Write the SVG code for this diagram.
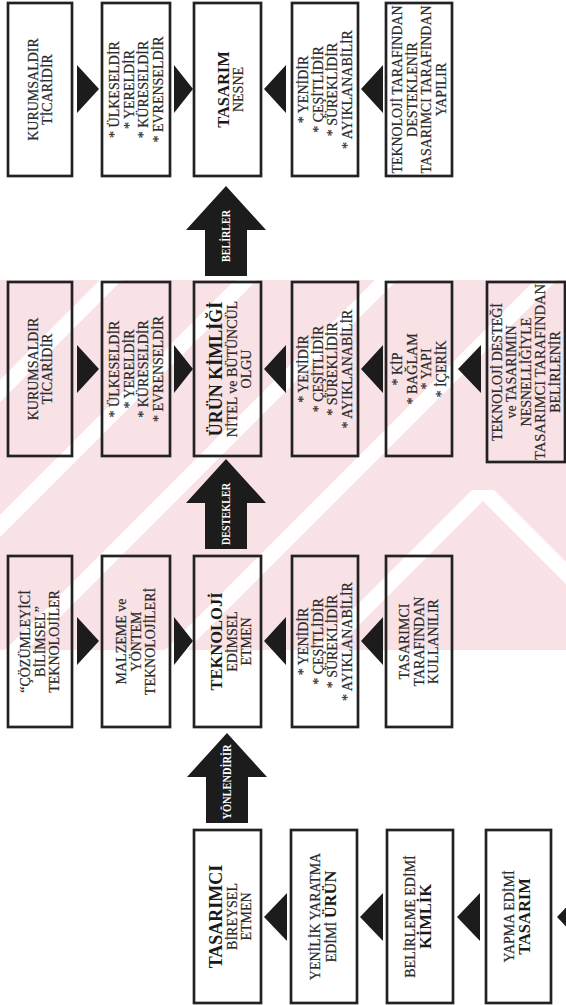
<svg xmlns="http://www.w3.org/2000/svg" width="566" height="1005" viewBox="0 0 566 1005">
  <style>
    .box { fill: none; stroke: #222; stroke-width: 2.7; }
    .tri { fill: #1c1c1c; }
    .arrow { fill: #1c1c1c; }
    .t { font-family: "Liberation Serif", "Times New Roman", serif; font-size: 14px; fill: #2a2a2a; stroke: #2a2a2a; stroke-width: 0.2; text-anchor: middle; }
    .b { font-family: "Liberation Serif", "Times New Roman", serif; font-size: 16.5px; font-weight: bold; fill: #1a1a1a; text-anchor: middle; }
    .bl { font-size: 18px; }
    .al { font-family: "Liberation Serif", "Times New Roman", serif; font-size: 12px; font-weight: bold; fill: #ffffff; text-anchor: middle; }
  </style>
  <defs>
    <clipPath id="wmclip"><rect x="0" y="280" width="566" height="370"/></clipPath>
  </defs>

  <rect x="0" y="0" width="566" height="1005" fill="#ffffff"/>

  <!-- background watermark band: pale pink with white diagonal gaps -->
  <g id="watermark" clip-path="url(#wmclip)">
    <rect x="0" y="280" width="566" height="370" fill="#f9e2e6"/>
    <g fill="#ffffff">
      <polygon points="0,380 380,0 402,0 0,402"/>
      <polygon points="0,515 515,0 537,0 0,537"/>
      <polygon points="0,655 655,0 677,0 0,677"/>
      <polygon points="0,815 815,0 837,0 0,837"/>
      <!-- chevron on the right -->
      <polygon points="472,490 494,490 297,687 275,687"/>
      <polygon points="472,490 494,490 680,676 658,676"/>
    </g>
  </g>

  <!-- connectors: small triangles and block arrows -->
  <g id="connectors">
    <!-- row 1 -->
    <polygon class="tri" points="77,65 77,113 99,89"/>
    <polygon class="tri" points="174,65 174,113 193,89"/>
    <polygon class="tri" points="286,65 286,113 264,89"/>
    <polygon class="tri" points="383,65 383,113 361,89"/>
    <!-- row 2 -->
    <polygon class="tri" points="77,345 77,393 99,369"/>
    <polygon class="tri" points="174,345 174,393 193,369"/>
    <polygon class="tri" points="286,345 286,393 264,369"/>
    <polygon class="tri" points="383,345 383,393 361,369"/>
    <polygon class="tri" points="481,345 481,393 458,369"/>
    <!-- row 3 -->
    <polygon class="tri" points="77,617 77,665 99,641"/>
    <polygon class="tri" points="174,617 174,665 193,641"/>
    <polygon class="tri" points="286,617 286,665 264,641"/>
    <polygon class="tri" points="383,617 383,665 361,641"/>
    <!-- row 4 -->
    <polygon class="tri" points="287,893 287,941 264,917"/>
    <polygon class="tri" points="383,893 383,941 360,917"/>
    <polygon class="tri" points="480,893 480,941 457,917"/>
    <polygon class="tri" points="580,893 580,941 557,917"/>

    <!-- block arrows -->
    <polygon class="arrow" points="226,186 266,230 247,230 247,276 205,276 205,230 186,230"/>
    <text class="al" transform="translate(230,236) rotate(-90)" textLength="52" lengthAdjust="spacingAndGlyphs">BELİRLER</text>
    <polygon class="arrow" points="226,459 266,503 247,503 247,549 205,549 205,503 186,503"/>
    <text class="al" transform="translate(230,514) rotate(-90)" textLength="62" lengthAdjust="spacingAndGlyphs">DESTEKLER</text>
    <polygon class="arrow" points="227,733 267,777 248,777 248,823 206,823 206,777 187,777"/>
    <text class="al" transform="translate(231,782) rotate(-90)" textLength="75" lengthAdjust="spacingAndGlyphs">YÖNLENDİRİR</text>
  </g>

  <!-- row 1 -->
  <g id="r1-kurumsal">
    <rect class="box" x="8" y="3" width="64" height="173"/>
    <g transform="translate(40,89.5) rotate(-90)">
      <text class="t" x="0" y="-2.5">KURUMSALDIR</text>
      <text class="t" x="0" y="12">TİCARİDİR</text>
    </g>
  </g>
  <g id="r1-olcek">
    <rect class="box" x="102" y="3" width="68" height="173"/>
    <g transform="translate(136,89.5) rotate(-90)">
      <text class="t" x="0" y="-17">* ÜLKESELDİR</text>
      <text class="t" x="0" y="-2.5">* YERELDİR</text>
      <text class="t" x="0" y="12">* KÜRESELDİR</text>
      <text class="t" x="0" y="26.5">* EVRENSELDİR</text>
    </g>
  </g>
  <g id="r1-tasarim">
    <rect class="box" x="194" y="3" width="67" height="173"/>
    <g transform="translate(227.5,89.5) rotate(-90)">
      <text class="b" x="0" y="1">TASARIM</text>
      <text class="t" x="0" y="15">NESNE</text>
    </g>
  </g>
  <g id="r1-nitelik">
    <rect class="box" x="292" y="3" width="66" height="173"/>
    <g transform="translate(325,89.5) rotate(-90)">
      <text class="t" x="0" y="-17">* YENİDİR</text>
      <text class="t" x="0" y="-2.5">* ÇEŞİTLİDİR</text>
      <text class="t" x="0" y="12">* SÜREKLİDİR</text>
      <text class="t" x="0" y="26.5">* AYIKLANABİLİR</text>
    </g>
  </g>
  <g id="r1-kaynak">
    <rect class="box" x="386" y="3" width="66" height="173"/>
    <g transform="translate(419,89.5) rotate(-90)">
      <text class="t" x="0" y="-17" textLength="168" lengthAdjust="spacingAndGlyphs">TEKNOLOJİ TARAFINDAN</text>
      <text class="t" x="0" y="-2.5">DESTEKLENİR</text>
      <text class="t" x="0" y="12" textLength="168" lengthAdjust="spacingAndGlyphs">TASARIMCI TARAFINDAN</text>
      <text class="t" x="0" y="26.5">YAPILIR</text>
    </g>
  </g>

  <!-- row 2 -->
  <g id="r2-kurumsal">
    <rect class="box" x="8" y="282" width="64" height="174"/>
    <g transform="translate(40,369) rotate(-90)">
      <text class="t" x="0" y="-2.5">KURUMSALDIR</text>
      <text class="t" x="0" y="12">TİCARİDİR</text>
    </g>
  </g>
  <g id="r2-olcek">
    <rect class="box" x="102" y="282" width="68" height="174"/>
    <g transform="translate(136,369) rotate(-90)">
      <text class="t" x="0" y="-17">* ÜLKESELDİR</text>
      <text class="t" x="0" y="-2.5">* YERELDİR</text>
      <text class="t" x="0" y="12">* KÜRESELDİR</text>
      <text class="t" x="0" y="26.5">* EVRENSELDİR</text>
    </g>
  </g>
  <g id="r2-urun-kimligi">
    <rect class="box" x="194" y="282" width="67" height="174"/>
    <g transform="translate(227.5,369) rotate(-90)">
      <text class="b bl" x="0" y="-6">ÜRÜN KİMLİĞİ</text>
      <text class="t" x="0" y="9">NİTEL ve BÜTÜNCÜL</text>
      <text class="t" x="0" y="23">OLGU</text>
    </g>
  </g>
  <g id="r2-nitelik">
    <rect class="box" x="292" y="282" width="66" height="174"/>
    <g transform="translate(325,369) rotate(-90)">
      <text class="t" x="0" y="-17">* YENİDİR</text>
      <text class="t" x="0" y="-2.5">* ÇEŞİTLİDİR</text>
      <text class="t" x="0" y="12">* SÜREKLİDİR</text>
      <text class="t" x="0" y="26.5">* AYIKLANABİLİR</text>
    </g>
  </g>
  <g id="r2-bilesen">
    <rect class="box" x="386" y="282" width="66" height="174"/>
    <g transform="translate(419,369) rotate(-90)">
      <text class="t" x="0" y="-17">* KİP</text>
      <text class="t" x="0" y="-2.5">* BAĞLAM</text>
      <text class="t" x="0" y="12">* YAPI</text>
      <text class="t" x="0" y="26.5">* İÇERİK</text>
    </g>
  </g>
  <g id="r2-kaynak">
    <rect class="box" x="487" y="282" width="78" height="180"/>
    <g transform="translate(526,372) rotate(-90)">
      <text class="t" x="0" y="-24.5">TEKNOLOJİ DESTEĞİ</text>
      <text class="t" x="0" y="-10">ve TASARIMIN</text>
      <text class="t" x="0" y="4.5">NESNELLİĞİYLE</text>
      <text class="t" x="0" y="19" textLength="176" lengthAdjust="spacingAndGlyphs">TASARIMCI TARAFINDAN</text>
      <text class="t" x="0" y="33.5">BELİRLENİR</text>
    </g>
  </g>

  <!-- row 3 -->
  <g id="r3-bilimsel">
    <rect class="box" x="8" y="556" width="64" height="171"/>
    <g transform="translate(40,641.5) rotate(-90)">
      <text class="t" x="0" y="-10">“ÇÖZÜMLEYİCİ</text>
      <text class="t" x="0" y="4.5">BİLİMSEL”</text>
      <text class="t" x="0" y="19">TEKNOLOJİLER</text>
    </g>
  </g>
  <g id="r3-malzeme">
    <rect class="box" x="102" y="556" width="68" height="171"/>
    <g transform="translate(136,641.5) rotate(-90)">
      <text class="t" x="0" y="-10">MALZEME ve</text>
      <text class="t" x="0" y="4.5">YÖNTEM</text>
      <text class="t" x="0" y="19">TEKNOLOJİLERİ</text>
    </g>
  </g>
  <g id="r3-teknoloji">
    <rect class="box" x="194" y="556" width="67" height="171"/>
    <g transform="translate(227.5,641.5) rotate(-90)">
      <text class="b" x="0" y="-6">TEKNOLOJİ</text>
      <text class="t" x="0" y="9">EDİMSEL</text>
      <text class="t" x="0" y="23">ETMEN</text>
    </g>
  </g>
  <g id="r3-nitelik">
    <rect class="box" x="292" y="556" width="66" height="171"/>
    <g transform="translate(325,641.5) rotate(-90)">
      <text class="t" x="0" y="-17">* YENİDİR</text>
      <text class="t" x="0" y="-2.5">* ÇEŞİTLİDİR</text>
      <text class="t" x="0" y="12">* SÜREKLİDİR</text>
      <text class="t" x="0" y="26.5">* AYIKLANABİLİR</text>
    </g>
  </g>
  <g id="r3-kullanim">
    <rect class="box" x="386" y="556" width="66" height="171"/>
    <g transform="translate(419,641.5) rotate(-90)">
      <text class="t" x="0" y="-10">TASARIMCI</text>
      <text class="t" x="0" y="4.5">TARAFINDAN</text>
      <text class="t" x="0" y="19">KULLANILIR</text>
    </g>
  </g>

  <!-- row 4 -->
  <g id="r4-tasarimci">
    <rect class="box" x="194" y="830" width="67" height="173"/>
    <g transform="translate(227.5,916.5) rotate(-90)">
      <text class="b bl" x="0" y="-6">TASARIMCI</text>
      <text class="t" x="0" y="9">BİREYSEL</text>
      <text class="t" x="0" y="23">ETMEN</text>
    </g>
  </g>
  <g id="r4-urun">
    <rect class="box" x="291" y="830" width="66" height="173"/>
    <g transform="translate(324,916.5) rotate(-90)">
      <text class="t" x="0" y="-4">YENİLİK YARATMA</text>
      <text class="t" x="0" y="12">EDİMİ <tspan class="b" style="text-anchor:start;stroke:none">ÜRÜN</tspan></text>
    </g>
  </g>
  <g id="r4-kimlik">
    <rect class="box" x="387" y="830" width="66" height="173"/>
    <g transform="translate(420,916.5) rotate(-90)">
      <text class="t" x="0" y="-5">BELİRLEME EDİMİ</text>
      <text class="b" x="0" y="11">KİMLİK</text>
    </g>
  </g>
  <g id="r4-tasarim">
    <rect class="box" x="486" y="830" width="65" height="173"/>
    <g transform="translate(518.5,916.5) rotate(-90)">
      <text class="t" x="0" y="-5">YAPMA EDİMİ</text>
      <text class="b" x="0" y="11">TASARIM</text>
    </g>
  </g>
</svg>
